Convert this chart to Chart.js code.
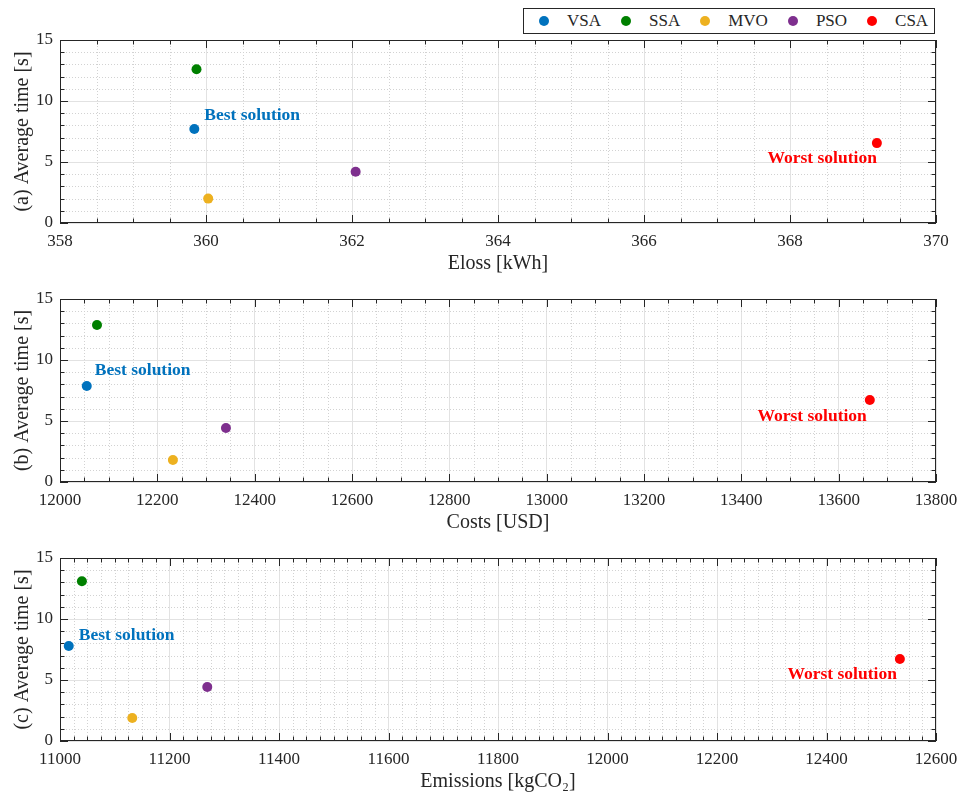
<!DOCTYPE html>
<html>
<head>
<meta charset="utf-8">
<script src="https://cdn.jsdelivr.net/npm/chart.js@4.4.1/dist/chart.umd.min.js"></script>
<style>
  body { margin: 0; background: #fff; width: 966px; height: 796px; overflow: hidden; position: relative; }
  canvas { position: absolute; left: 0; }
  #legend {
    position: absolute; left: 523px; top: 8px; width: 410px; height: 24px;
    border: 1px solid #262626; box-sizing: content-box;
    display: flex; align-items: center;
    font-family: 'Liberation Serif', 'Times New Roman', serif; font-size: 17px; color: #262626;
  }
  #legend .item { display: flex; align-items: center; margin-left: 15px; }
  #legend .dot { width: 10px; height: 10px; border-radius: 50%; margin-right: 18px; }
  #legend .item + .item { margin-left: 20px; }
</style>
</head>
<body>
<div id="legend"></div>
<canvas id="chartA" width="966" height="250" style="top:30px"></canvas>
<canvas id="chartB" width="966" height="250" style="top:289px"></canvas>
<canvas id="chartC" width="966" height="250" style="top:548px"></canvas>
<script>
// series
const algorithms = ['VSA', 'SSA', 'MVO', 'PSO', 'CSA'];
const colors = ['#0072BD', '#008000', '#EDB120', '#7E2F8E', '#FF0000'];

// (a) energy losses
const elossA = [359.84, 359.87, 360.03, 362.05, 369.19];
const timeA = [7.7, 12.6, 2.0, 4.2, 6.55];
// (b) costs
const costsB = [12055, 12076, 12232, 12341, 13664];
const timeB = [7.87, 12.87, 1.8, 4.43, 6.72];
// (c) emissions
const emissionsC = [11016, 11040, 11132, 11269, 12534];
const timeC = [7.79, 13.1, 1.89, 4.43, 6.72];

// axis ranges: [min, max, major step, minor step]
const xAxisA = [358, 370, 2, 0.5];
const xAxisB = [12000, 13800, 200, 50];
const xAxisC = [11000, 12600, 200, 25];
const yAxis = [0, 15, 5, 1];

const bestLabel = 'Best solution';
const worstLabel = 'Worst solution';

const FONT = "'Liberation Serif', 'Times New Roman', serif";
const INK = '#262626';

// legend
const legend = document.getElementById('legend');
algorithms.forEach((name, i) => {
    const item = document.createElement('div');
    item.className = 'item';
    item.innerHTML = `<span class="dot" style="background:${colors[i]}"></span><span>${name}</span>`;
    legend.appendChild(item);
});

// minor grid, box and inward ticks (MATLAB look)
const framePlugin = {
    id: 'frame',
    beforeDatasetsDraw(chart, args, o) {
        const { ctx, chartArea: a, scales: { x, y } } = chart;
        ctx.save();
        ctx.lineWidth = 1;

        const walk = (axis, scale, fn) => {
            const [min, max, major, minor] = axis;
            const n = Math.round((max - min) / minor);
            const k = Math.round(major / minor);
            for (let i = 0; i <= n; i++) {
                fn(Math.round(scale.getPixelForValue(min + i * minor)) + 0.5, i % k === 0);
            }
        };

        // dotted minor grid
        ctx.strokeStyle = '#d2d2d2';
        ctx.setLineDash([1, 2]);
        ctx.beginPath();
        walk(o.x, x, (px, major) => {
            if (major) return;
            ctx.moveTo(px, a.top); ctx.lineTo(px, a.bottom);
        });
        walk(o.y, y, (py, major) => {
            if (major) return;
            ctx.moveTo(a.left, py); ctx.lineTo(a.right, py);
        });
        ctx.stroke();
        ctx.setLineDash([]);

        // ticks
        ctx.strokeStyle = INK;
        ctx.beginPath();
        walk(o.x, x, (px, major) => {
            const len = major ? 8 : 4.5;
            ctx.moveTo(px, a.bottom); ctx.lineTo(px, a.bottom - len);
            ctx.moveTo(px, a.top); ctx.lineTo(px, a.top + len);
        });
        walk(o.y, y, (py, major) => {
            const len = major ? 8 : 4.5;
            ctx.moveTo(a.left, py); ctx.lineTo(a.left + len, py);
            ctx.moveTo(a.right, py); ctx.lineTo(a.right - len, py);
        });
        ctx.stroke();

        // box
        ctx.strokeRect(Math.round(a.left) + 0.5, Math.round(a.top) + 0.5,
            Math.round(a.width) - 1, Math.round(a.height) - 1);
        ctx.restore();
    },
    afterDatasetsDraw(chart, args, o) {
        const { ctx } = chart;
        const best = chart.getDatasetMeta(0).data[0];
        const worst = chart.getDatasetMeta(4).data[0];
        ctx.save();
        ctx.font = `bold 17.5px ${FONT}`;
        ctx.textBaseline = 'middle';
        ctx.fillStyle = colors[0];
        ctx.textAlign = 'left';
        ctx.fillText(bestLabel, best.x + o.best[0], best.y + o.best[1]);
        ctx.fillStyle = colors[4];
        ctx.textAlign = 'right';
        ctx.fillText(worstLabel, worst.x + o.worst[0], worst.y + o.worst[1]);
        ctx.restore();
    }
};

function makeChart(id, xs, ys, xAxis, xTitle, yTitle, notes) {
    const datasets = algorithms.map((name, i) => ({
        label: name,
        data: [{ x: xs[i], y: ys[i] }],
        backgroundColor: colors[i],
        borderColor: colors[i],
        pointRadius: 5,
        pointHoverRadius: 5,
        borderWidth: 0
    }));

    return new Chart(document.getElementById(id), {
        type: 'scatter',
        data: { datasets: datasets },
        plugins: [framePlugin],
        options: {
            responsive: false,
            animation: false,
            events: [],
            layout: { padding: { top: 10, right: 30, left: 0, bottom: 0 } },
            plugins: {
                legend: { display: false },
                tooltip: { enabled: false },
                frame: { x: xAxis, y: yAxis, best: notes.best, worst: notes.worst }
            },
            scales: {
                x: {
                    type: 'linear',
                    min: xAxis[0],
                    max: xAxis[1],
                    afterFit: s => {
                        s.height = 57;
                        s.paddingLeft = 0;
                        s.paddingRight = 0;
                    },
                    ticks: {
                        stepSize: xAxis[2],
                        padding: 8,
                        maxRotation: 0,
                        color: INK,
                        font: { family: FONT, size: 17 },
                        callback: v => String(v)
                    },
                    grid: { color: '#e2e2e2', drawTicks: false },
                    border: { display: false },
                    title: {
                        display: true,
                        text: xTitle,
                        color: INK,
                        padding: 4,
                        font: { family: FONT, size: 20 }
                    }
                },
                y: {
                    type: 'linear',
                    min: yAxis[0],
                    max: yAxis[1],
                    afterFit: s => {
                        s.width = 60;
                        s.paddingTop = 0;
                        s.paddingBottom = 0;
                    },
                    ticks: {
                        stepSize: yAxis[2],
                        padding: 7,
                        color: INK,
                        font: { family: FONT, size: 17 }
                    },
                    grid: { color: '#e2e2e2', drawTicks: false },
                    border: { display: false },
                    title: {
                        display: true,
                        text: yTitle,
                        color: INK,
                        padding: 11,
                        font: { family: FONT, size: 20 }
                    }
                }
            }
        }
    });
}

makeChart('chartA', elossA, timeA, xAxisA, 'Eloss [kWh]', '(a) Average time [s]',
    { best: [10, -14], worst: [0, 15] });
makeChart('chartB', costsB, timeB, xAxisB, 'Costs [USD]', '(b) Average time [s]',
    { best: [8, -16], worst: [-3, 16] });
makeChart('chartC', emissionsC, timeC, xAxisC, 'Emissions [kgCO\u2082]', '(c) Average time [s]',
    { best: [10, -10], worst: [-3, 15] });
</script>
</body>
</html>
